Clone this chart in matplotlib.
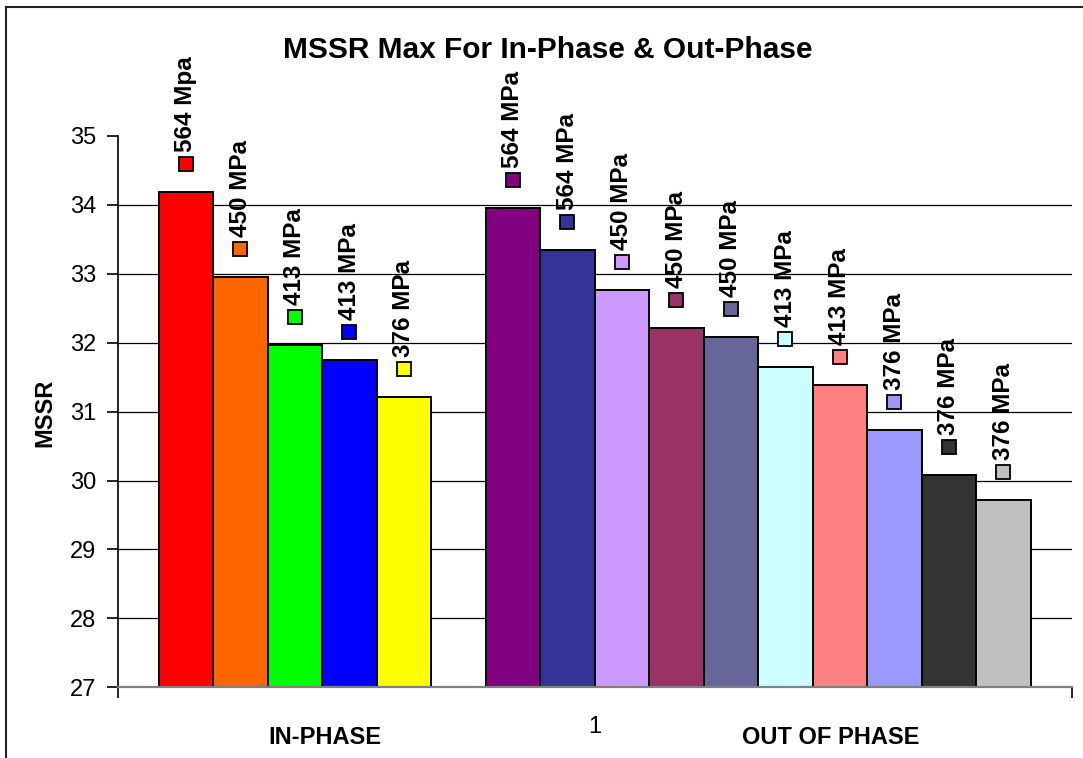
import matplotlib

matplotlib.use("Agg")
import matplotlib.pyplot as plt
from matplotlib.lines import Line2D
from matplotlib.transforms import offset_copy

plt.rcParams["font.family"] = ["Liberation Sans", "DejaVu Sans"]

# In-phase group, then out-of-phase group (one empty slot between them)
IN_LABELS = ["564 Mpa", "450 MPa", "413 MPa", "413 MPa", "376 MPa"]
IN_VALUES = [34.19, 32.96, 31.96, 31.75, 31.21]
IN_COLORS = ["#FF0000", "#FF6600", "#00FF00", "#0000FF", "#FFFF00"]

OUT_LABELS = ["564 MPa", "564 MPa", "450 MPa", "450 MPa", "450 MPa",
              "413 MPa", "413 MPa", "376 MPa", "376 MPa", "376 MPa"]
OUT_VALUES = [33.95, 33.34, 32.76, 32.21, 32.09, 31.65, 31.38, 30.74, 30.08, 29.72]
OUT_COLORS = ["#800080", "#333399", "#CC99FF", "#993366", "#666699",
              "#CCFFFF", "#FF8080", "#9999FF", "#333333", "#C0C0C0"]

Y_TICKS = list(range(27, 36))
CATEGORY = "1"

labels = IN_LABELS + OUT_LABELS
values = IN_VALUES + OUT_VALUES
colors = IN_COLORS + OUT_COLORS
xpos = list(range(len(IN_VALUES))) + [len(IN_VALUES) + 1 + i for i in range(len(OUT_VALUES))]

FS = 17

fig = plt.figure(figsize=(10.83, 7.58), dpi=100)
ax = fig.add_axes([0.1092, 0.0933, 0.9898 - 0.1092, 0.8206 - 0.0933])

x_lo, x_hi = -1.24, xpos[-1] + 1.26
ax.set_xlim(x_lo, x_hi)
ax.set_ylim(Y_TICKS[0], Y_TICKS[-1])

# inner gridlines only (none at top, axis line at bottom)
for yv in Y_TICKS[1:-1]:
    ax.axhline(yv, color="black", lw=0.9, zorder=1)

ax.bar(xpos, [v - Y_TICKS[0] for v in values], bottom=Y_TICKS[0], width=1.0,
       color=colors, edgecolor="black", linewidth=1.4, zorder=2)

mark_tf = offset_copy(ax.transData, fig=fig, y=28, units="dots")
text_tf = offset_copy(ax.transData, fig=fig, y=40, units="dots")
for x, v, c, lab in zip(xpos, values, colors, labels):
    ax.plot([x], [v], marker="s", ms=10, mfc=c, mec="black", mew=1.3,
            transform=mark_tf, clip_on=False, zorder=4)
    ax.text(x, v, lab, transform=text_tf, rotation=90, ha="center", va="bottom",
            fontsize=FS + 0.5, fontweight="bold", zorder=4)

for side in ("top", "right"):
    ax.spines[side].set_visible(False)
ax.spines["left"].set_color("black")
ax.spines["left"].set_linewidth(1.2)
ax.spines["bottom"].set_color("#808080")
ax.spines["bottom"].set_linewidth(1.6)

ax.set_yticks(Y_TICKS)
ax.set_yticklabels([str(t) for t in Y_TICKS], fontsize=FS)
ax.tick_params(axis="y", direction="out", length=8, width=1.2, pad=8)

ax.set_xticks([(x_lo + x_hi) / 2])
ax.set_xticklabels([CATEGORY], fontsize=FS)
ax.tick_params(axis="x", which="major", length=0, pad=21)
ax.set_xticks([x_lo, x_hi], minor=True)
ax.tick_params(axis="x", which="minor", direction="out", length=8, width=1.2, color="black")

fig.text(548 / 1083, 1 - 50 / 758, "MSSR Max For In-Phase & Out-Phase",
         ha="center", va="center", fontsize=21.5, fontweight="bold")
fig.text(45 / 1083, 1 - 412.5 / 758, "MSSR", rotation=90, ha="center", va="center",
         fontsize=FS, fontweight="bold")
fig.text(325 / 1083, 1 - 738 / 758, "IN-PHASE", ha="center", va="center",
         fontsize=FS, fontweight="bold")
fig.text(831 / 1083, 1 - 738 / 758, "OUT OF PHASE", ha="center", va="center",
         fontsize=FS, fontweight="bold")

# chart frame (cut off at right and bottom)
fig.add_artist(Line2D([6 / 1083, 6 / 1083], [0, 1 - 7 / 758], color="#222222", lw=1.5))
fig.add_artist(Line2D([6 / 1083, 1], [1 - 7 / 758, 1 - 7 / 758], color="#222222", lw=1.5))

fig.savefig("out.png", dpi=100, facecolor="white")
